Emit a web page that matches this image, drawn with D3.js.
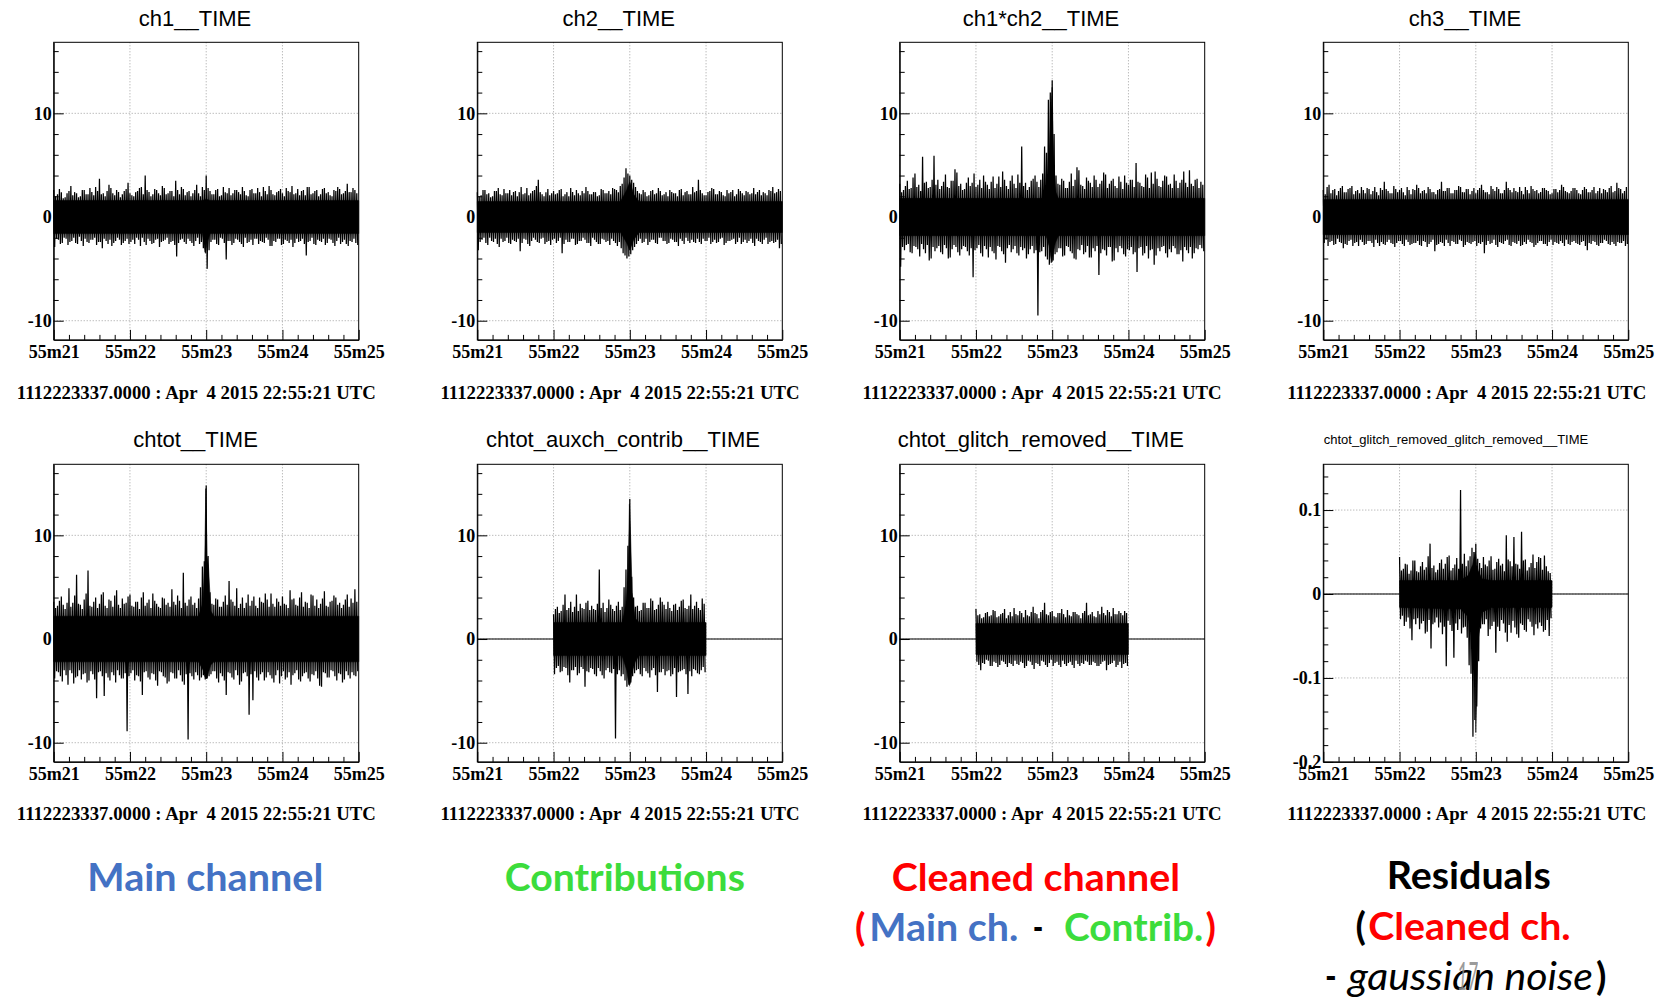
<!DOCTYPE html>
<html><head><meta charset="utf-8">
<script src="https://cdn.jsdelivr.net/npm/d3@7"></script>
<style>body{margin:0;background:#fff}</style>
</head><body>
<svg id="c" width="1659" height="1000" xmlns="http://www.w3.org/2000/svg"></svg>
<script>
// ---------- tick labels / texts ----------
const xMajor = [21,22,23,24,25];
const xMinor = [21.2,21.4,21.6,21.8,22.2,22.4,22.6,22.8,23.2,23.4,23.6,23.8,24.2,24.4,24.6,24.8];
const yMajorStd = [-10,0,10];
const yMinorStd = [-8,-6,-4,-2,2,4,6,8,12,14,16];
const yMajorRes = [-0.2,-0.1,0,0.1];
const yMinorRes = [-0.18,-0.16,-0.14,-0.12,-0.08,-0.06,-0.04,-0.02,0.02,0.04,0.06,0.08,0.12,0.14];
const titles = ["ch1__TIME","ch2__TIME","ch1*ch2__TIME","ch3__TIME",
  "chtot__TIME","chtot_auxch_contrib__TIME","chtot_glitch_removed__TIME","chtot_glitch_removed_glitch_removed__TIME"];
const footerText = "1112223337.0000 : Apr  4 2015 22:55:21 UTC";

// ---------- data: per-bin maxima / minima (bins of 0.025 s) ----------
const ch1Hi = [2.6,2.0,2.2,2.7,2.4,1.8,1.9,2.3,2.5,3.0,2.1,2.4,2.3,1.9,2.0,2.6,2.6,2.2,2.2,2.8,
 2.4,2.1,2.9,2.5,3.7,2.2,2.3,2.0,2.5,3.1,2.8,2.3,2.1,2.6,2.4,1.9,2.2,2.5,2.7,3.3,
 2.3,2.1,2.0,2.4,2.5,2.8,2.9,2.2,4.0,2.6,2.4,2.0,2.2,2.7,2.6,2.3,2.1,3.0,2.8,2.2,
 2.3,2.5,2.5,2.0,3.5,2.6,2.2,2.9,2.7,2.1,2.4,2.5,2.0,2.3,2.6,3.1,2.3,2.0,2.9,2.6,
 4.0,2.8,2.5,2.2,2.2,2.6,2.7,2.0,2.1,2.9,2.4,2.3,2.8,2.1,2.3,2.6,2.6,2.4,2.2,2.9,
 2.5,2.1,2.0,2.6,2.7,2.3,2.3,2.8,2.4,2.0,2.9,2.5,2.2,3.0,2.6,2.2,2.1,2.4,2.5,2.7,
 2.3,2.0,2.8,2.5,2.4,3.0,2.2,2.3,2.7,2.1,2.5,2.6,2.1,2.9,2.9,2.2,2.3,2.5,2.6,2.0,
 2.2,2.7,2.8,2.3,2.4,2.1,2.0,2.6,2.5,2.9,2.7,2.2,2.3,2.5,3.2,2.4,2.4,2.8,2.6,2.3];
const ch1Lo = [-2.9,-2.1,-2.2,-2.6,-2.5,-2.0,-2.1,-2.7,-2.4,-2.3,-2.0,-2.5,-2.6,-1.9,-2.3,-2.8,-2.1,-2.4,-2.5,-2.2,
 -2.2,-2.0,-2.7,-2.4,-2.4,-3.0,-2.1,-2.3,-2.6,-2.2,-2.8,-2.5,-2.3,-2.0,-2.2,-2.7,-2.5,-2.3,-2.1,-2.6,
 -2.4,-2.2,-2.6,-2.0,-2.2,-2.8,-2.0,-2.4,-2.7,-2.1,-2.3,-2.6,-2.5,-2.2,-2.1,-2.9,-2.4,-2.3,-2.2,-2.0,
 -2.6,-2.4,-2.3,-2.7,-3.8,-2.5,-2.2,-2.1,-2.4,-2.6,-2.1,-2.3,-2.5,-2.8,-2.3,-2.0,-2.6,-2.4,-3.0,-3.4,
 -5.0,-3.2,-2.4,-2.2,-2.2,-2.6,-2.7,-2.0,-2.1,-2.5,-4.1,-2.3,-2.3,-2.7,-2.5,-2.1,-2.2,-2.4,-2.6,-2.9,
 -2.0,-2.5,-2.4,-2.2,-2.7,-2.1,-2.1,-2.6,-2.3,-2.4,-2.5,-2.0,-2.2,-2.8,-2.8,-2.3,-2.4,-2.1,-2.1,-2.7,
 -2.6,-2.2,-2.3,-2.5,-2.2,-2.9,-2.5,-2.1,-2.4,-2.3,-2.1,-2.6,-3.7,-2.4,-2.3,-2.0,-2.6,-2.7,-2.2,-2.3,
 -2.4,-2.1,-2.7,-2.5,-2.1,-2.2,-2.5,-2.8,-2.3,-2.0,-2.6,-2.4,-2.2,-2.6,-2.8,-2.3,-2.4,-2.1,-2.5,-2.7];
const ch1Core = [[21,1.6,-1.6],[22.95,1.6,-1.6],[22.99,1.7,-3.5],[23.01,1.7,-2.5],[23.05,1.6,-1.6],[25,1.6,-1.6]];

const ch2Hi = [2.4,2.0,2.1,2.6,2.6,2.2,2.3,1.9,2.0,2.5,2.5,2.8,2.2,2.1,2.7,2.3,2.3,2.6,2.1,2.4,
 2.5,2.0,2.4,2.9,2.2,2.3,2.8,2.1,2.3,2.5,2.6,3.0,3.6,2.4,2.2,2.0,2.4,2.7,2.1,2.3,
 2.5,2.2,2.3,2.6,2.7,2.0,2.2,2.4,2.0,2.8,2.4,2.1,2.6,2.3,2.1,2.5,2.3,2.9,2.5,2.2,
 2.2,2.4,2.4,2.0,2.1,2.7,2.6,2.3,2.3,2.5,2.2,2.8,2.7,2.6,2.4,3.0,3.2,3.8,4.7,4.2,
 4.0,3.6,3.3,2.9,2.5,2.3,2.2,2.6,2.4,2.0,2.1,2.5,2.6,2.2,2.3,2.8,2.5,2.1,2.2,2.4,
 2.0,2.6,2.4,2.3,2.3,2.0,2.6,2.7,2.1,2.4,2.5,2.2,2.2,2.9,2.4,2.5,3.6,2.6,2.3,2.1,
 2.1,2.4,2.5,2.8,2.7,2.2,2.2,2.5,2.4,2.1,2.0,2.6,2.3,2.4,2.6,2.0,2.2,2.7,2.5,2.3,
 2.1,2.5,2.4,2.2,2.3,2.8,2.2,2.4,2.6,2.1,2.4,2.3,2.1,2.6,2.5,2.9,2.3,2.4,2.7,2.5];
const ch2Lo = [-3.2,-2.4,-2.2,-2.0,-2.5,-2.7,-2.0,-2.3,-2.4,-2.1,-2.6,-2.9,-2.1,-2.4,-2.3,-2.0,-2.5,-2.6,-2.2,-2.3,
 -2.4,-2.1,-3.3,-2.5,-2.1,-2.2,-2.6,-2.8,-2.3,-2.0,-2.2,-2.4,-2.5,-2.1,-2.0,-2.6,-2.4,-2.3,-2.7,-2.2,
 -2.1,-2.5,-2.3,-2.0,-3.5,-2.6,-2.2,-2.4,-2.4,-2.1,-2.1,-2.7,-2.6,-2.3,-2.3,-2.0,-2.2,-2.5,-2.5,-2.8,
 -2.0,-2.2,-2.4,-2.6,-2.6,-2.1,-2.2,-2.4,-2.3,-2.7,-2.1,-2.3,-2.5,-2.8,-2.4,-3.0,-3.5,-3.7,-4.0,-3.8,
 -3.6,-3.2,-2.9,-2.6,-2.3,-2.1,-2.5,-2.4,-2.1,-2.7,-2.4,-2.2,-2.2,-2.5,-2.6,-2.0,-2.0,-2.3,-2.3,-2.6,
 -2.5,-2.1,-2.2,-2.4,-2.4,-2.8,-2.1,-2.3,-2.6,-2.0,-2.3,-2.5,-2.2,-2.4,-2.5,-2.1,-2.4,-2.6,-2.1,-2.3,
 -2.3,-2.0,-2.6,-2.4,-2.2,-2.5,-2.4,-2.1,-2.0,-2.7,-2.5,-2.3,-2.3,-2.2,-2.1,-2.6,-2.4,-2.0,-2.6,-2.4,
 -2.2,-2.5,-2.3,-2.1,-2.5,-2.8,-2.1,-2.3,-2.4,-2.6,-2.2,-2.0,-2.6,-2.4,-2.3,-2.5,-2.4,-2.2,-3.0,-2.6];
const ch2Core = [[21,1.5,-1.5],[22.88,1.5,-1.5],[22.96,2.6,-2.5],[23.0,3.4,-3.2],[23.05,2.2,-2.2],[23.12,1.5,-1.5],[25,1.5,-1.5]];

const ch12Hi = [3.2,2.4,2.6,3.0,3.5,2.7,2.8,3.8,4.2,2.9,3.1,2.5,5.8,3.3,3.4,2.8,2.9,3.6,5.9,3.1,
 3.6,2.7,3.0,3.4,4.1,2.9,2.8,3.5,3.5,4.6,4.3,3.0,3.2,2.6,2.7,3.3,3.8,3.0,3.3,4.2,
 2.9,3.1,3.6,2.8,4.0,3.4,3.1,2.7,3.4,3.9,2.8,3.2,3.9,2.9,4.4,3.6,3.0,2.7,3.5,4.0,
 3.2,2.8,4.1,3.3,6.8,3.0,3.3,2.6,2.9,3.5,3.7,4.0,3.4,2.9,3.6,4.2,6.8,6.2,11.3,12.0,
 13.2,8.0,4.0,3.2,3.1,3.7,3.5,2.8,2.8,3.4,4.2,3.0,3.6,4.8,4.5,3.1,3.0,2.7,3.8,3.5,
 3.3,2.9,4.0,3.6,2.9,3.2,3.5,4.3,4.1,2.8,3.2,3.5,3.7,3.0,2.8,3.9,3.4,2.7,4.0,3.3,
 3.1,3.6,3.6,2.9,5.2,3.4,3.3,3.0,2.9,4.1,3.8,2.8,4.3,3.2,4.4,3.7,3.0,2.9,3.5,4.0,
 3.9,3.1,3.2,2.8,4.1,3.5,2.8,3.3,3.6,4.4,3.3,2.9,4.5,3.2,3.0,3.6,3.7,2.8,3.4,3.1];
const ch12Lo = [-4.8,-2.9,-3.2,-2.7,-2.6,-3.4,-3.5,-2.8,-2.9,-3.1,-3.8,-2.6,-3.1,-3.5,-2.7,-4.2,-4.0,-2.9,-3.3,-3.0,
 -2.8,-3.4,-3.6,-2.7,-3.0,-4.0,-3.9,-3.1,-2.7,-2.9,-3.4,-3.7,-3.1,-2.8,-2.9,-3.3,-3.7,-3.0,-5.8,-3.2,
 -3.0,-2.7,-3.5,-3.8,-2.8,-3.1,-3.9,-2.9,-3.3,-3.5,-4.1,-2.8,-2.9,-3.3,-3.6,-4.4,-3.0,-2.7,-3.4,-3.1,
 -2.8,-3.5,-3.7,-2.9,-3.2,-3.0,-4.0,-3.6,-3.1,-2.8,-3.5,-3.2,-9.5,-3.4,-3.3,-2.9,-3.8,-4.1,-4.6,-4.4,
 -4.2,-3.6,-3.4,-3.0,-3.0,-3.8,-3.7,-2.8,-2.9,-3.3,-3.5,-4.0,-4.1,-3.1,-3.2,-2.7,-3.6,-3.4,-2.8,-3.9,
 -3.9,-3.0,-3.3,-2.8,-5.6,-3.5,-3.1,-3.2,-3.7,-2.9,-2.9,-4.3,-4.2,-3.0,-3.4,-2.8,-3.0,-3.6,-3.8,-3.1,
 -3.2,-2.9,-3.6,-3.4,-5.3,-3.0,-2.9,-3.7,-3.5,-2.8,-4.0,-3.2,-3.1,-4.6,-3.7,-3.0,-3.3,-2.9,-2.8,-3.5,
 -3.9,-3.1,-3.4,-2.8,-3.0,-3.6,-3.6,-3.2,-4.3,-2.9,-3.2,-3.5,-2.9,-4.0,-3.5,-3.0,-3.1,-2.7,-3.0,-3.3];
const ch12Core = [[21,1.8,-1.8],[22.92,1.8,-1.8],[22.96,4.5,-2.8],[22.985,10.5,-4.0],[23.0,12.5,-4.3],[23.015,6,-3.5],[23.04,2.5,-2.5],[23.08,1.8,-1.8],[25,1.8,-1.8]];

const ch3Hi = [2.6,2.2,2.9,3.1,2.3,2.6,2.7,2.1,2.5,2.8,3.0,2.4,2.4,2.7,2.8,3.0,2.2,2.5,2.6,2.3,
 2.9,2.6,2.3,2.8,2.7,2.2,2.5,2.9,2.4,2.1,2.8,2.6,3.4,2.7,2.5,2.3,2.3,3.0,2.7,2.4,
 2.6,2.8,2.4,2.1,2.9,2.6,2.2,2.7,2.6,3.1,2.8,2.3,2.5,2.6,2.3,2.9,2.7,2.4,2.4,2.2,
 2.6,2.7,3.4,2.5,2.5,2.8,2.8,2.3,2.3,2.6,2.6,3.0,2.9,2.4,2.4,2.7,2.7,2.2,2.5,2.8,
 2.3,2.6,2.8,3.1,2.6,2.4,2.4,2.2,3.0,2.7,2.5,2.9,2.7,2.3,2.3,2.6,3.4,2.8,2.6,2.4,
 2.8,2.5,2.4,2.9,2.5,2.2,2.9,2.6,2.3,3.0,2.7,2.5,2.6,2.3,2.4,2.8,2.8,2.6,2.5,2.2,
 2.3,2.7,2.7,2.4,2.6,3.1,2.9,2.5,2.4,2.3,2.5,2.8,2.8,2.6,2.3,2.2,2.6,2.9,2.7,2.4,
 2.4,2.6,2.9,2.3,2.5,2.8,2.3,2.7,2.6,2.4,2.8,3.0,2.4,2.5,3.3,2.8,2.7,2.3,2.5,2.9];
const ch3Lo = [-2.5,-2.2,-2.8,-2.4,-2.3,-2.7,-2.6,-2.1,-2.4,-2.5,-3.0,-2.6,-2.7,-2.3,-2.2,-2.8,-2.5,-2.4,-2.8,-2.2,
 -2.4,-2.7,-2.6,-2.3,-2.3,-2.5,-2.9,-2.2,-2.5,-2.8,-2.4,-2.6,-2.7,-2.4,-2.2,-2.5,-2.6,-2.9,-2.5,-2.3,
 -2.3,-2.6,-2.8,-2.2,-2.4,-2.7,-2.6,-2.5,-2.5,-2.3,-2.7,-2.8,-2.3,-2.4,-2.9,-2.6,-2.4,-2.2,-3.3,-2.7,
 -2.6,-2.4,-2.5,-2.8,-2.2,-2.5,-2.8,-2.3,-2.4,-2.6,-2.6,-2.2,-2.3,-2.9,-2.7,-2.4,-2.5,-2.6,-2.4,-2.3,
 -2.8,-2.5,-2.6,-2.4,-3.5,-2.7,-2.3,-2.6,-2.5,-2.2,-2.7,-2.9,-2.4,-2.5,-2.6,-2.3,-2.2,-2.7,-2.8,-2.4,
 -2.5,-2.6,-2.3,-2.8,-2.7,-2.4,-2.6,-2.2,-2.4,-2.5,-2.9,-2.7,-2.5,-2.3,-2.3,-2.6,-2.6,-2.8,-2.4,-2.2,
 -2.7,-2.4,-2.5,-2.6,-2.3,-2.5,-2.8,-2.2,-2.6,-2.7,-2.4,-2.3,-2.5,-2.6,-2.7,-2.4,-2.3,-2.8,-3.2,-2.5,
 -2.6,-2.3,-2.4,-2.7,-2.8,-2.5,-2.5,-2.2,-2.3,-2.6,-2.7,-2.4,-2.6,-2.8,-2.4,-2.5,-2.5,-2.3,-2.8,-2.6];
const ch3Core = [[21,1.7,-1.7],[25,1.7,-1.7]];

const chtotHi = [3.6,3.0,3.2,3.7,4.1,3.3,2.9,3.5,4.9,3.1,3.5,4.2,6.2,3.4,3.3,2.9,3.8,4.4,6.6,3.2,
 3.1,3.6,4.0,3.0,3.4,4.3,4.5,3.2,3.0,3.8,3.7,3.1,4.2,4.7,3.3,3.0,3.9,3.4,3.5,4.1,
 4.3,3.2,3.1,3.6,3.6,2.9,4.0,4.5,3.2,3.5,3.8,3.0,4.4,3.7,3.4,3.1,3.0,4.0,3.9,3.3,
 3.5,3.1,4.8,3.6,3.3,4.2,3.7,3.0,6.4,3.5,3.2,3.8,4.1,3.3,3.5,3.0,3.9,5.0,7.0,7.5,
 14.8,8.0,4.5,3.4,3.3,3.9,3.8,3.1,3.1,3.6,4.2,3.3,5.6,3.8,3.6,3.2,4.9,3.0,3.4,4.0,
 3.0,3.5,4.3,3.2,3.7,4.1,3.2,3.0,4.0,3.6,3.5,4.4,3.8,3.1,4.4,3.4,3.1,3.9,3.6,3.2,
 4.1,3.4,3.3,3.0,4.7,3.8,3.9,3.3,3.2,4.0,4.5,3.1,3.6,3.5,3.0,4.3,4.2,3.2,3.8,3.0,
 3.4,3.9,4.6,3.2,3.1,3.6,3.7,4.2,4.0,3.3,3.5,3.0,3.3,3.8,4.3,3.1,3.9,3.5,4.8,3.6];
const chtotLo = [-3.8,-3.1,-3.2,-3.6,-4.1,-3.0,-3.5,-4.4,-3.0,-3.3,-4.3,-3.7,-3.6,-3.0,-3.9,-3.4,-3.3,-4.2,-4.0,-3.1,
 -3.4,-3.9,-5.7,-3.2,-3.1,-3.6,-5.5,-3.3,-3.7,-4.0,-3.2,-3.5,-4.2,-3.0,-3.5,-3.8,-3.8,-3.3,-8.9,-3.6,
 -3.3,-3.0,-4.0,-3.5,-3.6,-4.1,-5.4,-3.2,-3.1,-3.7,-3.9,-3.3,-3.4,-4.0,-4.5,-3.1,-3.2,-3.6,-3.7,-4.3,
 -4.1,-3.2,-3.3,-3.8,-3.8,-3.0,-3.5,-4.1,-4.4,-3.4,-9.7,-3.3,-3.6,-3.9,-3.2,-3.5,-4.0,-3.7,-3.5,-3.9,
 -3.8,-3.6,-3.4,-3.1,-3.1,-3.8,-4.2,-3.3,-3.6,-4.0,-5.4,-3.2,-3.3,-3.7,-3.9,-3.0,-3.5,-4.4,-4.1,-3.3,
 -3.2,-3.6,-7.3,-3.4,-5.9,-3.1,-3.7,-4.0,-3.4,-3.2,-4.0,-3.7,-3.2,-3.5,-3.8,-4.2,-3.5,-3.0,-4.3,-3.6,
 -3.1,-3.9,-3.7,-3.2,-4.4,-3.5,-3.3,-3.0,-3.9,-4.1,-3.6,-3.3,-3.2,-3.8,-4.1,-3.4,-3.5,-3.1,-3.8,-4.5,
 -4.6,-3.2,-3.3,-3.7,-3.7,-3.0,-3.1,-3.6,-4.0,-3.3,-3.4,-4.2,-3.9,-3.1,-3.5,-3.8,-3.2,-3.5,-3.6,-3.1];
const chtotCore = [[21,2.2,-2.2],[22.9,2.2,-2.2],[22.96,3.5,-3.0],[22.98,7.0,-3.6],[22.995,14.5,-3.8],[23.01,8.0,-3.8],[23.03,7.0,-3.2],[23.06,2.7,-2.5],[23.1,2.2,-2.2],[25,2.2,-2.2]];

const contribHi = [2.4,2.9,3.1,2.5,2.7,3.3,4.3,2.8,3.0,3.6,2.6,3.1,4.3,2.7,3.4,3.0,2.9,3.5,3.7,2.8,
 3.2,2.9,2.8,3.4,6.7,3.0,3.5,2.6,3.0,3.8,3.3,2.9,2.7,3.2,3.6,2.8,3.1,5.0,6.7,9.0,
 13.5,6.0,4.0,3.1,3.2,2.7,2.8,3.5,3.5,3.0,3.0,3.9,3.7,2.8,2.9,3.3,4.0,3.6,3.3,2.9,
 3.6,3.0,2.7,3.3,3.4,2.8,3.1,3.7,3.8,3.0,2.9,3.2,4.3,2.9,3.2,3.6,3.0,2.8,3.9,3.4];
const contribLo = [-3.4,-2.8,-2.6,-3.2,-3.1,-2.7,-2.8,-3.5,-4.2,-3.0,-3.0,-2.7,-3.5,-3.3,-2.7,-2.9,-4.6,-3.1,-3.2,-2.8,
 -2.9,-3.4,-3.6,-2.8,-3.1,-3.5,-3.8,-3.0,-2.8,-3.2,-3.3,-2.9,-9.6,-3.4,-3.0,-3.6,-3.4,-4.0,-4.6,-4.4,
 -4.2,-3.6,-3.3,-3.0,-2.9,-3.4,-3.6,-2.8,-3.1,-3.3,-3.7,-3.0,-2.8,-3.5,-5.1,-3.2,-3.2,-2.9,-3.5,-3.1,
 -3.0,-3.6,-3.4,-2.8,-5.6,-3.2,-3.1,-3.0,-2.9,-3.4,-5.3,-3.1,-3.6,-2.9,-3.0,-3.3,-3.4,-3.0,-2.7,-3.2];
const contribCore = [[22,1.6,-1.6],[22.9,1.6,-1.6],[22.96,3.5,-3.0],[22.98,6.5,-4.0],[22.995,13.0,-4.5],[23.01,10,-4.2],[23.03,4.5,-3.2],[23.07,2.0,-2.2],[23.12,1.6,-1.6],[24,1.6,-1.6]];

const cleanHi = [2.9,2.3,2.4,2.0,2.1,2.5,2.6,2.2,2.3,2.8,2.7,2.1,2.2,2.4,2.5,2.9,2.0,2.3,2.6,2.2,
 3.0,2.4,2.3,2.7,2.5,2.1,2.8,2.3,2.2,2.6,3.1,2.5,2.4,2.0,2.6,2.8,3.5,2.4,2.3,2.6,
 2.7,2.2,2.1,2.5,2.5,2.9,2.4,2.1,2.8,2.3,2.2,2.6,2.6,2.4,2.3,2.0,2.5,2.7,3.5,2.3,
 2.4,2.6,2.2,2.1,2.7,2.4,3.1,2.5,2.3,2.8,2.6,2.2,3.0,2.4,2.4,2.7,2.5,2.3,2.7,2.5];
const cleanLo = [-2.2,-2.5,-3.0,-2.3,-2.4,-2.0,-2.1,-2.6,-2.6,-2.2,-2.3,-2.7,-2.5,-2.1,-2.2,-2.4,-2.7,-2.3,-2.4,-2.6,
 -2.1,-2.4,-2.5,-2.2,-2.3,-2.8,-2.6,-2.1,-2.2,-2.5,-2.9,-2.3,-2.4,-2.6,-2.1,-2.2,-2.5,-2.7,-2.3,-2.0,
 -2.6,-2.3,-2.2,-2.5,-2.7,-2.1,-2.4,-2.6,-2.3,-2.2,-2.5,-2.8,-2.1,-2.4,-2.6,-2.3,-2.4,-2.1,-2.2,-2.5,
 -2.5,-2.2,-2.3,-2.6,-2.6,-2.4,-2.2,-2.1,-3.0,-2.5,-2.4,-2.3,-2.1,-2.7,-2.5,-2.2,-2.8,-2.4,-2.3,-2.6];
const cleanCore = [[22,1.5,-1.5],[24,1.5,-1.5]];

const residHi = [.044,.028,.030,.036,.035,.024,.028,.040,.040,.027,.026,.033,.038,.029,.032,.045,.060,.031,.034,.026,
 .029,.037,.041,.030,.036,.044,.046,.028,.031,.035,.043,.030,.124,.036,.048,.033,.040,.045,.055,.050,
 .060,.042,.037,.031,.044,.035,.033,.040,.045,.029,.030,.038,.042,.034,.036,.027,.070,.041,.039,.033,
 .068,.036,.035,.030,.074,.040,.041,.028,.032,.037,.047,.031,.038,.044,.043,.029,.046,.033,.027,.025];
const residLo = [-.030,-.026,-.038,-.033,-.028,-.041,-.055,-.030,-.036,-.029,-.042,-.035,-.032,-.047,-.045,-.031,-.065,-.036,-.034,-.028,
 -.040,-.034,-.048,-.039,-.086,-.032,-.037,-.044,-.076,-.035,-.043,-.030,-.047,-.040,-.039,-.052,-.085,-.095,-.170,-.150,
 -.134,-.080,-.041,-.036,-.036,-.030,-.050,-.042,-.038,-.033,-.070,-.039,-.044,-.031,-.035,-.046,-.057,-.037,-.046,-.032,
 -.040,-.048,-.052,-.035,-.037,-.043,-.045,-.030,-.033,-.039,-.049,-.036,-.041,-.034,-.038,-.045,-.043,-.031,-.050,-.029];
const residCore = [[22,0.016,-0.016],[22.8,0.016,-0.018],[22.9,0.022,-0.027],[22.96,0.035,-0.045],[22.99,0.05,-0.09],[23.0,0.045,-0.165],[23.01,0.035,-0.13],[23.03,0.028,-0.055],[23.08,0.018,-0.022],[23.2,0.016,-0.016],[24,0.016,-0.016]];

const zeroSegments = [[21,22],[24,25]];

// ---------- panel table built from the arrays ----------
const panels = [
  {hi:ch1Hi, lo:ch1Lo, core:ch1Core, t0:21, flat:false, res:false},
  {hi:ch2Hi, lo:ch2Lo, core:ch2Core, t0:21, flat:false, res:false},
  {hi:ch12Hi, lo:ch12Lo, core:ch12Core, t0:21, flat:false, res:false},
  {hi:ch3Hi, lo:ch3Lo, core:ch3Core, t0:21, flat:false, res:false},
  {hi:chtotHi, lo:chtotLo, core:chtotCore, t0:21, flat:false, res:false},
  {hi:contribHi, lo:contribLo, core:contribCore, t0:22, flat:true, res:false},
  {hi:cleanHi, lo:cleanLo, core:cleanCore, t0:22, flat:true, res:false},
  {hi:residHi, lo:residLo, core:residCore, t0:22, flat:true, res:true}
];
const binDt = 0.025;

// ---------- layout ----------
const svg = d3.select('#c');
const W = 305, H = 297.6;
const colX = [53.7, 477.3, 899.7, 1323.3];
const rowY = [42.3, 464.3];
const titleX = [[195, 618.8, 1041, 1465], [195.5, 623, 1040.8, 1456]];
const titleY = [25.7, 446.9];
const footX = [196.3, 620, 1042, 1466.7];
const footY = [399.3, 819.5];
const serif = "'Liberation Serif','Times New Roman',serif";
const sans = "'Liberation Sans',Arial,Helvetica,sans-serif";

panels.forEach((p, k) => {
  const r = Math.floor(k / 4), c = k % 4;
  const L = colX[c], T = rowY[r];
  const x = d3.scaleLinear().domain([21, 25]).range([L, L + W]);
  const y = d3.scaleLinear().domain(p.res ? [-0.2, 0.1545] : [-11.85, 16.85]).range([T + H, T]);
  const g = svg.append('g');

  // title
  g.append('text').attr('x', titleX[r][c]).attr('y', k === 7 ? 444 : titleY[r])
    .attr('text-anchor', 'middle').attr('font-family', sans)
    .attr('font-size', k === 7 ? 13 : 22).attr('fill', '#000').text(titles[k]);

  // grid
  g.selectAll('line.gx').data([22, 23, 24]).join('line').attr('class', 'gx')
    .attr('x1', d => x(d)).attr('x2', d => x(d)).attr('y1', T).attr('y2', T + H)
    .attr('stroke', '#a0a0a0').attr('stroke-width', 1).attr('stroke-dasharray', '1,2');
  g.selectAll('line.gy').data(p.res ? [-0.1, 0, 0.1] : yMajorStd).join('line').attr('class', 'gy')
    .attr('x1', L).attr('x2', L + W).attr('y1', d => y(d)).attr('y2', d => y(d))
    .attr('stroke', '#a0a0a0').attr('stroke-width', 1).attr('stroke-dasharray', '1,2');

  // flat zero parts
  if (p.flat) {
    g.selectAll('line.z').data(zeroSegments).join('line').attr('class', 'z')
      .attr('x1', d => x(d[0])).attr('x2', d => x(d[1])).attr('y1', y(0)).attr('y2', y(0))
      .attr('stroke', '#000').attr('stroke-width', 1.2);
  }

  // dense core band
  const area = d3.area().x(d => x(d[0])).y0(d => y(d[2])).y1(d => y(d[1]));
  g.append('path').datum(p.core).attr('d', area).attr('fill', '#000')
    .attr('stroke', '#000').attr('stroke-width', 0.6);

  // trace: alternate between bin maxima and minima
  const pts = [];
  p.hi.forEach((v, i) => {
    pts.push([p.t0 + i * binDt, v]);
    pts.push([p.t0 + (i + 0.5) * binDt, p.lo[i]]);
  });
  g.append('path').datum(pts)
    .attr('d', d3.line().x(d => x(d[0])).y(d => y(d[1])))
    .attr('fill', 'none').attr('stroke', '#000').attr('stroke-width', 1.25);

  // frame
  g.append('rect').attr('x', L).attr('y', T).attr('width', W).attr('height', H)
    .attr('fill', 'none').attr('stroke', '#000').attr('stroke-width', 1);

  // axes
  const yAx = g.append('g').attr('transform', `translate(${L},0)`)
    .call(d3.axisLeft(y).tickValues(p.res ? yMajorRes : yMajorStd).tickSize(-10).tickSizeOuter(0).tickPadding(2)
      .tickFormat(d => p.res ? (d === 0 ? '0' : d3.format('.1f')(d).replace('−', '-')) : String(d)));
  g.append('g').attr('transform', `translate(${L},0)`)
    .call(d3.axisLeft(y).tickValues(p.res ? yMinorRes : yMinorStd).tickSize(-5).tickSizeOuter(0).tickFormat(''))
    .call(a => a.select('.domain').remove());
  const xAx = g.append('g').attr('transform', `translate(0,${T + H})`)
    .call(d3.axisBottom(x).tickValues(xMajor).tickSize(-10).tickSizeOuter(0).tickPadding(5.5)
      .tickFormat(d => '55m' + d));
  g.append('g').attr('transform', `translate(0,${T + H})`)
    .call(d3.axisBottom(x).tickValues(xMinor).tickSize(-5).tickSizeOuter(0).tickFormat(''))
    .call(a => a.select('.domain').remove());
  [yAx, xAx].forEach(a => {
    a.selectAll('text').attr('font-family', serif).attr('font-weight', 'bold')
      .attr('font-size', 18).attr('fill', '#000');
  });
  g.selectAll('.tick line').attr('stroke', '#000');
  g.selectAll('.domain').attr('stroke', '#000');

  // footer
  g.append('text').attr('x', footX[c]).attr('y', footY[r]).attr('text-anchor', 'middle')
    .attr('font-family', serif).attr('font-weight', 'bold').attr('font-size', 18.5)
    .attr('textLength', 359).attr('lengthAdjust', 'spacingAndGlyphs')
    .style('white-space', 'pre').attr('fill', '#000').text(footerText);
});

// ---------- slide annotations ----------
const BLUE = '#4472C4', GREEN = '#3CDC3C', RED = '#FF0000', BLACK = '#000';
const notes = [
  {t:'Main channel', x:87.3, y:890.7, w:236, c:BLUE},
  {t:'Contributions', x:504.7, y:890.7, w:240.2, c:GREEN},
  {t:'Cleaned channel', x:891.7, y:890.7, w:288.3, c:RED},
  {t:'(', x:855, y:940.5, c:RED},
  {t:'Main ch.', x:869.3, y:940.5, w:149, c:BLUE},
  {t:'-', x:1032.7, y:940.5, w:10.6, c:BLACK},
  {t:'Contrib.', x:1064, y:940.5, w:139.3, c:GREEN},
  {t:')', x:1205.5, y:940.5, c:RED},
  {t:'Residuals', x:1386.7, y:889.3, w:164, c:BLACK},
  {t:'(', x:1355.5, y:940, c:BLACK},
  {t:'Cleaned ch.', x:1368.3, y:940, w:202.4, c:RED},
  {t:'-', x:1325, y:990, w:11.7, c:BLACK},
  {t:'gaussian noise', x:1348, y:990, w:245, c:BLACK, it:true},
  {t:')', x:1596, y:990, c:BLACK},
  {t:'17', x:1457, y:990, w:21, c:'#8a8a8a', it:true, op:0.85}
];
notes.forEach(n => {
  const t = svg.append('text').attr('x', n.x).attr('y', n.y)
    .attr('font-family', "Lato,'Open Sans',sans-serif")
    .attr('font-weight', n.it ? 400 : 700).attr('font-style', n.it ? 'italic' : 'normal')
    .attr('font-size', 38).attr('fill', n.c).text(n.t);
  if (n.w) t.attr('textLength', n.w).attr('lengthAdjust', 'spacingAndGlyphs');
  if (n.op) t.attr('opacity', n.op);
});
</script>
</body></html>
